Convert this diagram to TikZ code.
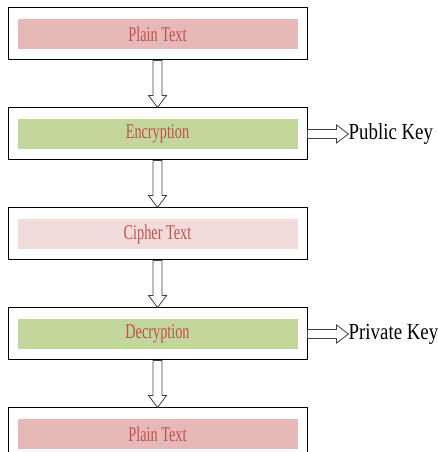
\documentclass[tikz,border=0pt]{standalone}
\usepackage{fontspec}
\usepackage{xcolor}
\usetikzlibrary{arrows.meta, positioning, calc}
\newfontfamily\boxfont[FakeStretch=0.68]{Liberation Serif}
\newfontfamily\keyfont[FakeStretch=0.82]{Liberation Serif}
\definecolor{plainfill}{HTML}{E6B9B8}
\definecolor{encfill}{HTML}{C3D69B}
\definecolor{cipherfill}{HTML}{F2DCDB}
\definecolor{labelred}{HTML}{C0504D}

\begin{document}
\begin{tikzpicture}[x=1pt, y=1pt, node distance=47pt,
    stagebox/.style={draw, line width=1pt, fill=white, minimum width=299pt, minimum height=52pt, inner sep=0pt},
    stagebar/.style={minimum width=280pt, minimum height=30pt, inner sep=0pt, text=labelred,
        font=\boxfont\fontsize{21}{21}\selectfont},
    keylabel/.style={inner sep=0pt, font=\keyfont\fontsize{23}{23}\selectfont},
    blockarrow/.style={draw=black!75, line width=0.8pt, to path={
        ($(\tikztotarget)!12pt!(\tikztostart)$) coordinate (ah)
        ($(\tikztostart)!4.5pt!90:(ah)$) -- ($(ah)!4.5pt!-90:(\tikztostart)$)
        -- ($(ah)!9pt!-90:(\tikztostart)$) -- (\tikztotarget)
        -- ($(ah)!9pt!90:(\tikztostart)$) -- ($(ah)!4.5pt!90:(\tikztostart)$)
        -- ($(\tikztostart)!4.5pt!-90:(ah)$) -- cycle}}]
    \clip (0,0) rectangle (438,452);

    \node[stagebox] (plain) at (157.5,418) {};
    \node[stagebar, fill=plainfill] (plainbar) at (plain) {Plain Text};
    \node[stagebox, below=of plain] (enc) {};
    \node[stagebar, fill=encfill] (encbar) at (enc) {Encryption};
    \node[stagebox, below=of enc] (cipher) {};
    \node[stagebar, fill=cipherfill] (cipherbar) at (cipher) {Cipher Text};
    \node[stagebox, below=of cipher] (dec) {};
    \node[stagebar, fill=encfill] (decbar) at (dec) {Decryption};
    \node[stagebox, below=of dec] (plainout) {};
    \node[stagebar, fill=plainfill] (plainoutbar) at (plainout) {Plain Text};

    \node[keylabel, right=41pt of enc] (pub) {Public Key};
    \node[keylabel, right=41pt of dec] (priv) {Private Key};

    \draw[blockarrow] (plain.south) to (enc.north);
    \draw[blockarrow] (enc.south) to (cipher.north);
    \draw[blockarrow] (cipher.south) to (dec.north);
    \draw[blockarrow] (dec.south) to (plainout.north);
    \draw[blockarrow] (enc.east) to (pub.west);
    \draw[blockarrow] (dec.east) to (priv.west);
\end{tikzpicture}
\end{document}
